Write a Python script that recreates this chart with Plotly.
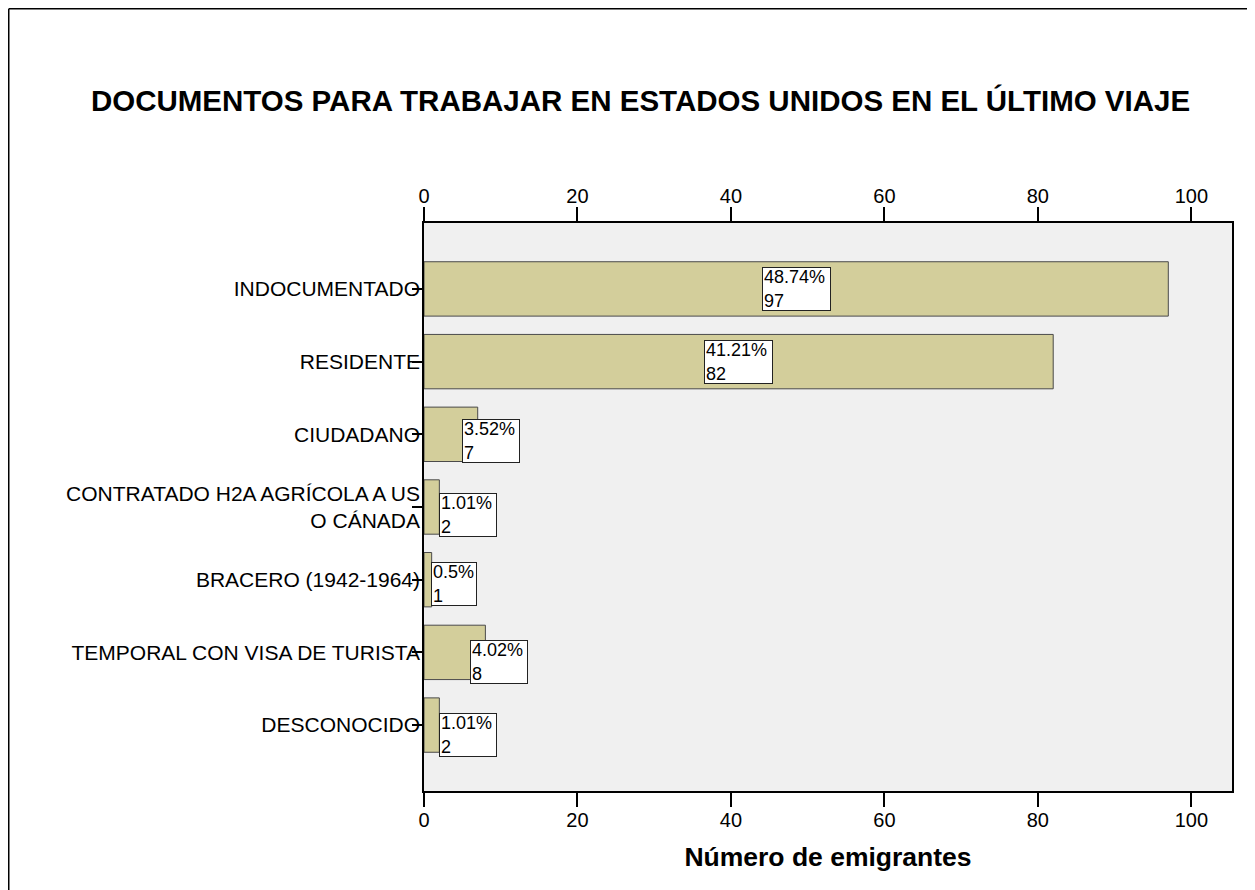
import plotly.graph_objects as go

# ---- data ----
categories = [
    "INDOCUMENTADO",
    "RESIDENTE",
    "CIUDADANO",
    "CONTRATADO H2A AGRÍCOLA A US<br>O CÁNADA",
    "BRACERO (1942-1964)",
    "TEMPORAL CON VISA DE TURISTA",
    "DESCONOCIDO",
]
counts = [97, 82, 7, 2, 1, 8, 2]
percents = ["48.74%", "41.21%", "3.52%", "1.01%", "0.5%", "4.02%", "1.01%"]
x_ticks = [0, 20, 40, 60, 80, 100]

# ---- styles ----
bar_color = "#D3CE9B"
bar_line = "#4a4a4a"
plot_bg = "#F0F0F0"
label_xshift = [0, 0, 40, 36, 26, 44, 36]      # px, label box placement
label_yshift = [0, 0, -7, -7.5, -4.5, -9.5, -10]
FONT = "Arial, Liberation Sans, sans-serif"

# page body adds an 8px margin, so the figure is slightly smaller
W, H = 1247, 882
ML, MR, MT, MB = 416, 23, 215, 99
PW, PH = W - ML - MR, H - MT - MB
x_max = 105.3

fig = go.Figure()
fig.add_trace(go.Bar(
    x=counts, y=categories, orientation="h",
    marker=dict(color=bar_color, line=dict(color=bar_line, width=1)),
    hoverinfo="skip", showlegend=False,
))
# invisible trace so the top axis is drawn
fig.add_trace(go.Scatter(
    x=counts, y=categories, xaxis="x2", mode="markers",
    marker=dict(opacity=0), hoverinfo="skip", showlegend=False,
))

annotations = []
for cat, c, p, dx, dy in zip(categories, counts, percents, label_xshift, label_yshift):
    annotations.append(dict(
        x=c / 2, y=cat, xref="x", yref="y",
        text=f"{p}<br>{c}", showarrow=False, align="left",
        xanchor="center", yanchor="middle",
        xshift=dx, yshift=dy,
        width=11.5 * len(p) - 4, height=40,
        bgcolor="white", bordercolor="#222", borderwidth=1, borderpad=1,
        font=dict(family=FONT, size=18, color="black"),
    ))

axis_common = dict(
    range=[0, x_max], tickvals=x_ticks, ticks="outside", ticklen=14,
    tickwidth=2, tickcolor="black", showline=True, linecolor="black",
    linewidth=2, showgrid=False, zeroline=False, ticklabelstandoff=-4,
    tickfont=dict(family=FONT, size=20, color="black"),
)

fig.update_layout(
    width=W, height=H, autosize=False,
    margin=dict(l=ML, r=MR, t=MT, b=MB, autoexpand=False),
    paper_bgcolor="white", plot_bgcolor=plot_bg,
    bargap=0.252,
    title=dict(
        text="<b>DOCUMENTOS PARA TRABAJAR EN ESTADOS UNIDOS EN EL ÚLTIMO VIAJE</b>",
        x=632.5 / W, xref="container", xanchor="center",
        y=1 - 93 / H, yref="container", yanchor="middle",
        font=dict(family=FONT, size=29.5, color="black"),
    ),
    xaxis=dict(
        **axis_common, side="bottom",
        title=dict(text="<b>Número de emigrantes</b>", standoff=17,
                   font=dict(family=FONT, size=26.5, color="black")),
    ),
    xaxis2=dict(**axis_common, side="top", overlaying="x", anchor="y"),
    yaxis=dict(
        type="category", categoryorder="array", categoryarray=categories,
        range=[6.907, -0.907], ticks="outside", ticklen=10, tickwidth=2,
        tickcolor="black", showline=True, linecolor="black", linewidth=1.5,
        mirror=True, showgrid=False, zeroline=False, ticklabelstandoff=-12,
        tickfont=dict(family=FONT, size=21, color="black"),
    ),
    annotations=annotations,
    shapes=[
        dict(type="line", xref="paper", yref="paper",
             x0=(0.75 - ML) / PW, x1=(0.75 - ML) / PW,
             y0=-0.3, y1=1 + (MT - 0.75) / PH,
             line=dict(color="black", width=1.5)),
        dict(type="line", xref="paper", yref="paper",
             x0=(0.75 - ML) / PW, x1=1.1,
             y0=1 + (MT - 0.75) / PH, y1=1 + (MT - 0.75) / PH,
             line=dict(color="black", width=1.5)),
    ],
)

fig.write_html("out.html")
